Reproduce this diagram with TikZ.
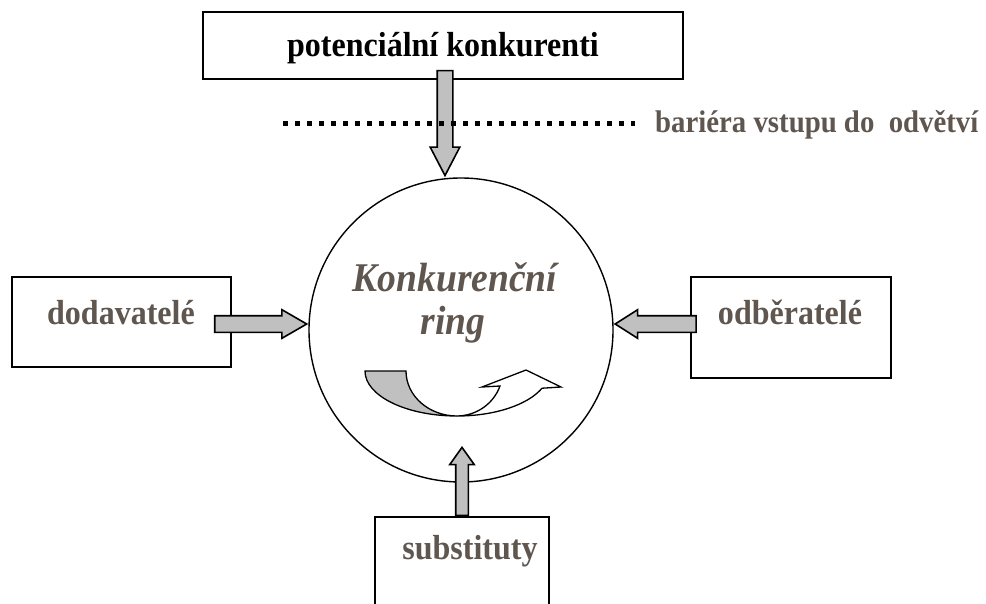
\documentclass[tikz,border=0pt]{standalone}
\usepackage{fontspec}
\setmainfont{Liberation Serif}[FakeStretch=0.92]
\usetikzlibrary{positioning,shapes.arrows}
\definecolor{txtgray}{RGB}{94,86,79}
\definecolor{arrgray}{RGB}{192,192,192}
\tikzset{box/.style={shape=rectangle, draw, line width=1.6pt, inner sep=0pt}}
\tikzset{lbl/.style={font=\fontsize{34.8}{40}\selectfont\bfseries, text=txtgray,
    inner sep=0pt, anchor=base}}
\tikzset{blockarr/.style={shape=single arrow, draw=black, fill=arrgray, line width=1.6pt,
    inner xsep=0pt, single arrow head indent=0pt}}
\tikzset{barrier/.style={line width=5pt, dash pattern=on 5pt off 7pt}}

\begin{document}
\begin{tikzpicture}[x=1pt, y=-1pt]
  \clip (0,0) rectangle (986,603);
  \fill[white] (0,0) rectangle (986,603);

    %%%% Boxes and ring
    \node[box, minimum width=480, minimum height=67]  (pot) at (443,45.5)  {};
    \node[box, minimum width=219, minimum height=90]  (dod) at (121.5,322) {};
    \node[box, minimum width=200, minimum height=101] (odb) at (791,327.5) {};
    \node[box, minimum width=174, minimum height=120] (sub) at (462,577)   {};
    \node[draw, circle, line width=1.4pt, inner sep=0pt, minimum size=304] (ring) at (461,330) {};

    %%%% Labels
    \node[lbl, text=black] (pottxt) at (443,56)  {potenciální konkurenti};
    \node[lbl]             (dodtxt) at (121,324) {dodavatelé};
    \node[lbl]             (odbtxt) at (790,324) {odběratelé};
    \node[lbl]             (subtxt) at (470,559) {substituty};
    \node[lbl, font=\fontsize{40.8}{47}\selectfont\bfseries\itshape] (ringtxt)  at (455,291) {Konkurenční};
    \node[lbl, font=\fontsize{40.8}{47}\selectfont\bfseries\itshape] (ringtxtb) at (453,334) {ring};
    \node[lbl, anchor=base west, font=\fontsize{31.3}{36}\selectfont\bfseries] (bartxt) at (655,132)
        {bariéra vstupu do\ \ odvětví};

    %%%% Ring arrow
    \draw[line width=1.3pt, fill=arrgray] (365,371)
        arc[start angle=180, end angle=90, x radius=92, y radius=45]
        arc[start angle=90, end angle=180, x radius=51, y radius=45] -- cycle;
    \draw[line width=1.3pt, fill=white] (457,416)
        arc[start angle=90, end angle=22.5, x radius=92, y radius=45]
        -- (561,387) -- (526,370) -- (482,387) -- (500,386)
        arc[start angle=19.5, end angle=90, x radius=46, y radius=45] -- cycle;

    %%%% Block arrows
    \node[blockarr, rotate=-90, anchor=tip, minimum height=105, inner ysep=7,
        single arrow head extend=7, single arrow tip angle=55] (potarr) at ([xshift=-16]ring.north) {};
    \node[blockarr, anchor=tip, minimum height=92, inner ysep=7.5,
        single arrow head extend=6, single arrow tip angle=60] (dodarr) at ([yshift=6]ring.west) {};
    \node[blockarr, rotate=180, anchor=tip, minimum height=81, inner ysep=7.5,
        single arrow head extend=6, single arrow tip angle=65] (odbarr) at ([yshift=6]ring.east) {};
    \node[blockarr, rotate=90, anchor=tail, minimum height=68, inner ysep=5.5,
        single arrow head extend=6, single arrow tip angle=71] (subarr) at (sub.north) {};

    %%%% Entry barrier
    \coordinate (barstart) at (283,123);
    \coordinate (barend)   at (635,123);
    \draw[barrier] (barstart) -- (barend);

\end{tikzpicture}
\end{document}
